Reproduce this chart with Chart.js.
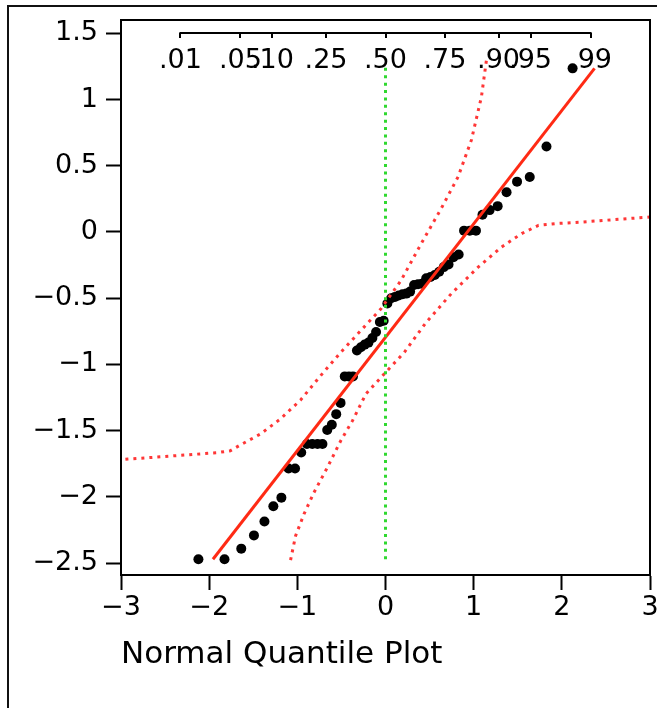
<!DOCTYPE html>
<html>
<head>
<meta charset="utf-8">
<title>Normal Quantile Plot</title>
<script src="https://cdn.jsdelivr.net/npm/chart.js@4.4.1/dist/chart.umd.min.js"></script>
<style>
  html, body { margin: 0; padding: 0; background: #fff; }
  canvas { display: block; }
</style>
</head>
<body>
<canvas id="quantilePlot" width="657" height="708"></canvas>
<script>
// Normal quantile plot with reference line and confidence bands

// Normal quantiles of the sorted observations (x) and the observations (y)
const normalQuantiles = [
  -2.122, -1.826, -1.636, -1.492, -1.373, -1.272, -1.181, -1.100, -1.026, -0.956,
  -0.891, -0.830, -0.771, -0.715, -0.661, -0.609, -0.559, -0.510, -0.462, -0.415,
  -0.369, -0.324, -0.279, -0.236, -0.193, -0.149, -0.107, -0.064, -0.021, 0.021,
  0.064, 0.107, 0.149, 0.193, 0.236, 0.279, 0.324, 0.369, 0.415, 0.462,
  0.510, 0.559, 0.609, 0.661, 0.715, 0.771, 0.830, 0.891, 0.956, 1.026,
  1.100, 1.181, 1.272, 1.373, 1.492, 1.636, 1.826, 2.122
];
const observed = [
  -2.47, -2.47, -2.39, -2.29, -2.185, -2.07, -2.005, -1.785, -1.785, -1.665,
  -1.60, -1.60, -1.60, -1.60, -1.495, -1.455, -1.375, -1.29, -1.09, -1.09,
  -1.09, -0.895, -0.87, -0.85, -0.835, -0.80, -0.755, -0.68, -0.67, -0.54,
  -0.50, -0.49, -0.48, -0.47, -0.465, -0.45, -0.40, -0.395, -0.39, -0.35,
  -0.34, -0.325, -0.30, -0.265, -0.245, -0.19, -0.17, 0.01, 0.01, 0.01,
  0.13, 0.165, 0.195, 0.30, 0.38, 0.415, 0.645, 1.235
];

// Fitted normal line end points
const fitLineX = [-1.957, 2.371];
const fitLineY = [-2.47, 1.235];

// Upper and lower confidence bands
const upperBandX = [-2.95, -2.92, -2.635, -2.27, -1.91, -1.76, -1.647, -1.419, -1.191, -0.963,
  -0.735, -0.507, -0.279, -0.051, 0.177, 0.405, 0.632, 0.823, 0.974, 1.088, 1.145];
const upperBandY = [-1.716, -1.714, -1.701, -1.683, -1.666, -1.651, -1.608, -1.525, -1.411, -1.268,
  -1.084, -0.908, -0.743, -0.579, -0.365, -0.088, 0.177, 0.416, 0.693, 1.02, 1.298];
const lowerBandX = [-1.077, -1.02, -0.925, -0.811, -0.659, -0.507, -0.374, -0.222, -0.014, 0.214,
  0.462, 0.746, 1.051, 1.316, 1.544, 1.734, 1.924, 2.228, 2.607, 3.0];
const lowerBandY = [-2.477, -2.294, -2.13, -1.966, -1.777, -1.575, -1.424, -1.222, -1.071, -0.908,
  -0.681, -0.466, -0.265, -0.114, -0.012, 0.05, 0.063, 0.075, 0.094, 0.113];

// Median marker (vertical line at quantile 0)
const medianLineX = [0, 0];
const medianLineY = [-2.47, 1.25];

// Probability axis drawn inside the plot
const probLabels = ['.01', '.05', '.10', '.25', '.50', '.75', '.90', '.95', '.99'];
const probPositions = [-2.326, -1.645, -1.282, -0.674, 0, 0.674, 1.282, 1.645, 2.326];
const probAxisLevel = 1.5;

// Axis ranges
const xRange = [-3, 3];
const yRange = [-2.589, 1.60];

const plotTitle = 'Normal Quantile Plot';

const FONT = "'DejaVu Sans', sans-serif";
const RED = '#ff2a14';
const RED_DOTS = '#ff3636';
const GREEN = '#2fd82f';

const charts = {};

window.addEventListener('DOMContentLoaded', function () {
  plotarQuantis();
});

function pares(xs, ys) {
  return xs.map((x, i) => ({ x: x, y: ys[i] }));
}

function formatarTick(value) {
  return String(Number(value.toFixed(2))).replace('-', '\u2212');
}

// Draws the probability scale along the top of the plot
const probAxisPlugin = {
  id: 'probAxis',
  beforeDatasetsDraw(chart) {
    const { ctx, scales: { x, y } } = chart;
    const yLine = Math.round(y.getPixelForValue(probAxisLevel));
    const x0 = x.getPixelForValue(probPositions[0]);
    const x1 = x.getPixelForValue(probPositions[probPositions.length - 1]);

    ctx.save();
    ctx.strokeStyle = '#000';
    ctx.lineWidth = 2;
    ctx.beginPath();
    ctx.moveTo(x0 - 1, yLine);
    ctx.lineTo(x1 + 1, yLine);
    probPositions.forEach(function (p) {
      const px = Math.round(x.getPixelForValue(p));
      ctx.moveTo(px, yLine);
      ctx.lineTo(px, yLine + 5);
    });
    ctx.stroke();

    ctx.fillStyle = '#000';
    ctx.font = '27px ' + FONT;
    ctx.textAlign = 'center';
    ctx.textBaseline = 'alphabetic';
    probLabels.forEach(function (label, i) {
      ctx.fillText(label, x.getPixelForValue(probPositions[i]), yLine + 35);
    });
    ctx.restore();
  },
};

// Closes the plot box, writes the caption and draws the outer panel border
const framePlugin = {
  id: 'frame',
  afterDraw(chart) {
    const { ctx, chartArea } = chart;
    ctx.save();
    ctx.strokeStyle = '#000';
    ctx.lineWidth = 2;
    ctx.beginPath();
    ctx.moveTo(chartArea.left, chartArea.top);
    ctx.lineTo(chartArea.right, chartArea.top);
    ctx.lineTo(chartArea.right, chartArea.bottom);
    ctx.stroke();

    ctx.fillStyle = '#000';
    ctx.font = '31px ' + FONT;
    ctx.textAlign = 'left';
    ctx.textBaseline = 'alphabetic';
    ctx.fillText(plotTitle, chartArea.left, chartArea.bottom + 88);

    ctx.strokeStyle = '#111';
    ctx.beginPath();
    ctx.moveTo(8, chart.height);
    ctx.lineTo(8, 6);
    ctx.lineTo(chart.width, 6);
    ctx.stroke();
    ctx.restore();
  },
};

function plotarQuantis() {
  const ctx = document.getElementById('quantilePlot');
  if (!ctx) return;

  const config = {
    type: 'scatter',
    data: {
      datasets: [
        {
          label: 'Median',
          data: pares(medianLineX, medianLineY),
          showLine: true,
          borderColor: GREEN,
          borderWidth: 3,
          borderDash: [3, 4.4],
          pointRadius: 0,
          order: 1,
        },
        {
          label: 'Normal fit',
          data: pares(fitLineX, fitLineY),
          showLine: true,
          borderColor: RED,
          borderWidth: 3,
          pointRadius: 0,
          order: 1,
        },
        {
          label: 'Upper band',
          data: pares(upperBandX, upperBandY),
          showLine: true,
          borderColor: RED_DOTS,
          borderWidth: 3,
          borderDash: [3, 5],
          pointRadius: 0,
          order: 1,
        },
        {
          label: 'Lower band',
          data: pares(lowerBandX, lowerBandY),
          showLine: true,
          borderColor: RED_DOTS,
          borderWidth: 3,
          borderDash: [3, 5],
          pointRadius: 0,
          order: 1,
        },
        {
          label: 'Observations',
          data: pares(normalQuantiles, observed),
          backgroundColor: '#000',
          borderWidth: 0,
          pointRadius: 5,
          order: 5,
        },
      ],
    },
    options: {
      responsive: false,
      animation: false,
      layout: {
        padding: { top: 20, right: 7, left: 0, bottom: 0 },
      },
      plugins: {
        legend: { display: false },
        tooltip: { enabled: false },
      },
      scales: {
        x: {
          type: 'linear',
          min: xRange[0],
          max: xRange[1],
          ticks: {
            stepSize: 1,
            includeBounds: false,
            padding: 2,
            color: '#000',
            font: { family: FONT, size: 27 },
            callback: formatarTick,
          },
          grid: {
            drawOnChartArea: false,
            tickLength: 15,
            tickWidth: 2,
            tickColor: '#000',
          },
          border: { color: '#000', width: 2 },
          afterFit(scale) {
            scale.height = 133;
            scale.paddingLeft = 0;
            scale.paddingRight = 0;
          },
        },
        y: {
          type: 'linear',
          min: yRange[0],
          max: yRange[1],
          ticks: {
            stepSize: 0.5,
            includeBounds: false,
            padding: 8,
            color: '#000',
            font: { family: FONT, size: 27 },
            callback: formatarTick,
          },
          grid: {
            drawOnChartArea: false,
            tickLength: 15,
            tickWidth: 2,
            tickColor: '#000',
          },
          border: { color: '#000', width: 2 },
          afterFit(scale) {
            scale.width = 121;
            scale.paddingTop = 0;
            scale.paddingBottom = 0;
          },
        },
      },
    },
    plugins: [probAxisPlugin, framePlugin],
  };

  charts.quantis = new Chart(ctx, config);
}
</script>
</body>
</html>
